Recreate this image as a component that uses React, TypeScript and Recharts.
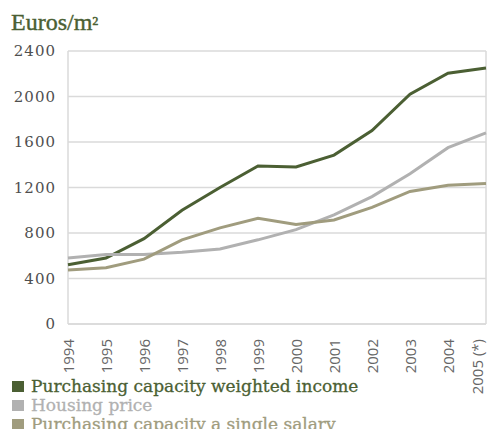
import React from 'react';
import { LineChart, Line, XAxis, YAxis, CartesianGrid, ReferenceLine } from 'recharts';

const years = ['1994', '1995', '1996', '1997', '1998', '1999', '2000', '2001', '2002', '2003', '2004', '2005 (*)'];
const weightedIncome = [520, 580, 750, 1000, 1200, 1390, 1380, 1485, 1700, 2020, 2205, 2250];
const housingPrice = [580, 610, 610, 630, 660, 740, 830, 960, 1120, 1320, 1550, 1680];
const singleSalary = [475, 495, 570, 740, 845, 930, 875, 915, 1025, 1165, 1220, 1235];
const yTicks = [0, 400, 800, 1200, 1600, 2000, 2400];

const series = [
  { key: 'weighted', name: 'Purchasing capacity weighted income', color: '#4b5f33', values: weightedIncome },
  { key: 'housing', name: 'Housing price', color: '#b1b1b1', values: housingPrice },
  { key: 'single', name: 'Purchasing capacity a single salary', color: '#a09c7e', values: singleSalary },
];

const data = years.map((year, i) => {
  const row: Record<string, string | number> = { year };
  series.forEach((s) => {
    row[s.key] = s.values[i];
  });
  return row;
});

const GRID = '#dadada';

// rotated year labels; the last one is nudged left so it stays inside the frame
const YearTick = (props: any) => {
  const { x, y, payload, index } = props;
  const tx = index === years.length - 1 ? x - 9 : x;
  return (
    <text
      x={tx}
      y={y + 7}
      transform={`rotate(-90 ${tx} ${y + 7})`}
      textAnchor="end"
      dominantBaseline="central"
      fill="#666"
      fontSize={15}
      fontFamily="'Open Sans', sans-serif"
    >
      {payload.value}
    </text>
  );
};

const App = () => (
  <div style={{ position: 'absolute', left: 0, top: 0, width: 490, height: 429, overflow: 'hidden', background: '#fff' }}>
    <div
      style={{
        position: 'absolute',
        left: 11,
        top: 8,
        fontFamily: "'Liberation Serif', serif",
        fontSize: 24,
        color: '#4b5f33',
        lineHeight: '28px',
        WebkitTextStroke: '0.4px #4b5f33',
      }}
    >
      Euros/m<span style={{ fontSize: 20 }}>²</span>
    </div>
    <div style={{ position: 'absolute', left: 0, top: 0 }}>
      <LineChart width={490} height={429} data={data} margin={{ top: 51, right: 4, bottom: 0, left: 0 }}>
        <CartesianGrid vertical={false} stroke={GRID} strokeWidth={1.5} />
        <ReferenceLine x="1994" stroke={GRID} strokeWidth={1.5} />
        <ReferenceLine x="2005 (*)" stroke={GRID} strokeWidth={1.5} />
        <XAxis
          dataKey="year"
          height={105}
          interval={0}
          tickLine={false}
          axisLine={{ stroke: GRID, strokeWidth: 1.5 }}
          tick={<YearTick />}
        />
        <YAxis
          width={68}
          domain={[0, 2400]}
          ticks={yTicks}
          tickLine={false}
          axisLine={false}
          tickMargin={6}
          tick={{ fill: '#4f4f4f', fontSize: 15, fontFamily: "'DejaVu Serif', serif", letterSpacing: 1 }}
        />
        {series.map((s) => (
          <Line
            key={s.key}
            dataKey={s.key}
            name={s.name}
            stroke={s.color}
            strokeWidth={3}
            dot={false}
            isAnimationActive={false}
          />
        ))}
      </LineChart>
    </div>
    <div style={{ position: 'absolute', left: 12, top: 377 }}>
      {series.map((s) => (
        <div
          key={s.key}
          style={{
            display: 'flex',
            alignItems: 'center',
            height: 19,
            lineHeight: '19px',
            fontFamily: "'DejaVu Serif', serif",
            fontSize: 17,
            color: s.color,
            whiteSpace: 'nowrap',
            WebkitTextStroke: `0.3px ${s.color}`,
          }}
        >
          <span style={{ display: 'inline-block', width: 12, height: 11, background: s.color, marginRight: 7 }} />
          {s.name}
        </div>
      ))}
    </div>
  </div>
);

export default App;
